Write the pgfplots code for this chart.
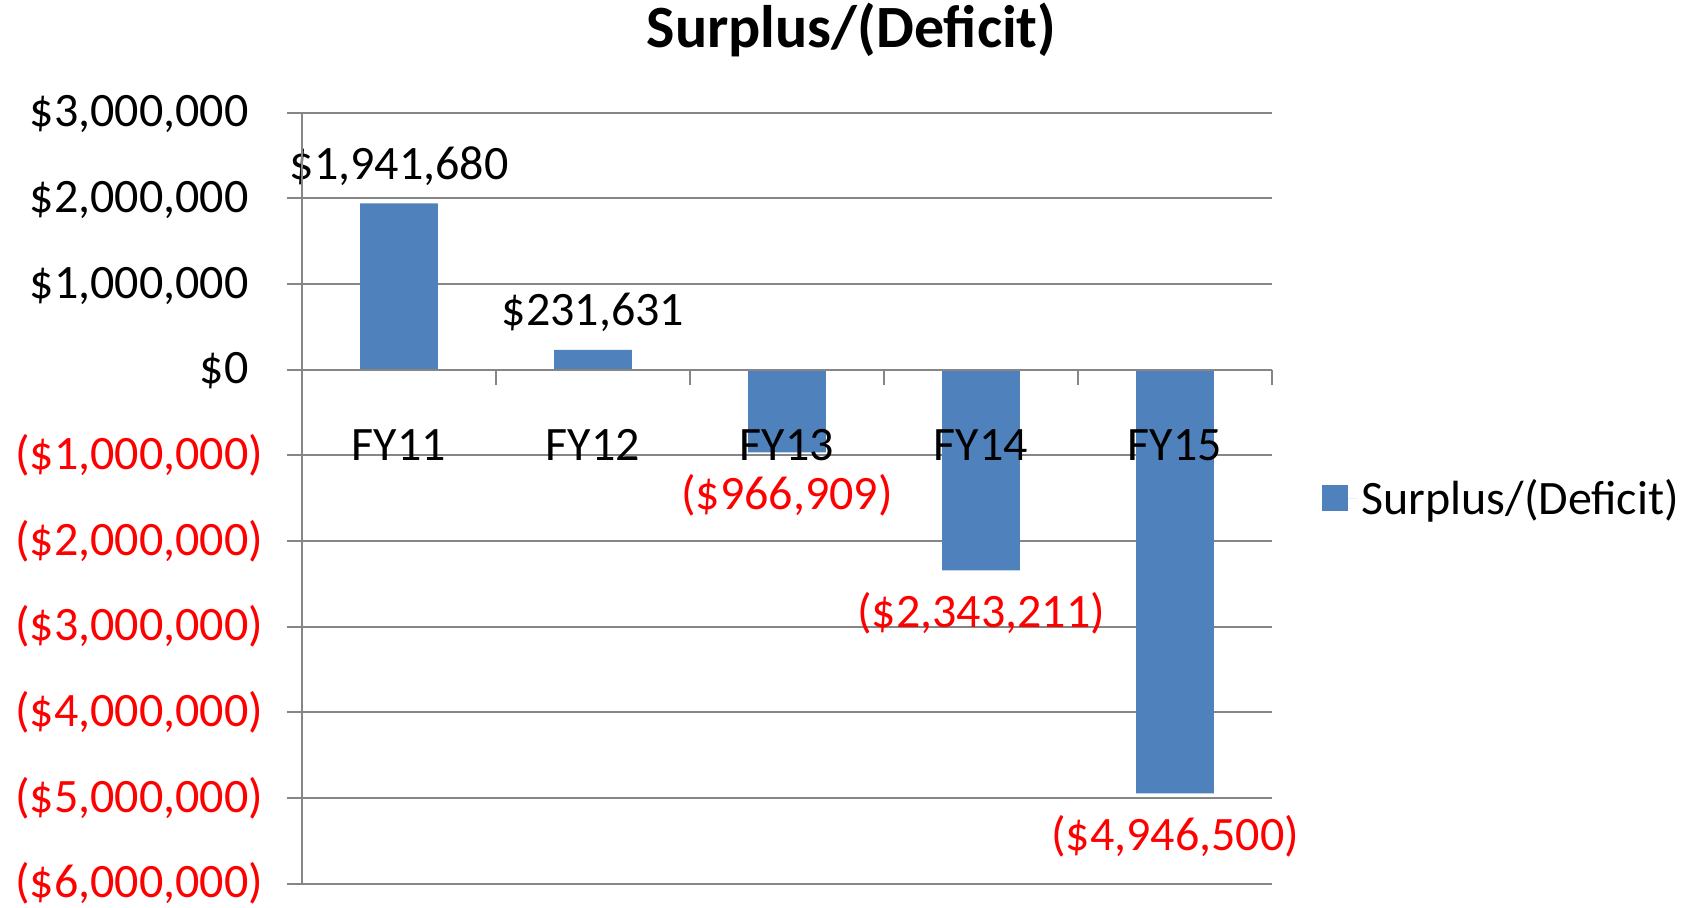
\documentclass[border=0pt]{standalone}
\usepackage{fontspec}
\setmainfont{Carlito}
\usepackage{pgfplots}
\pgfplotsset{compat=1.18}
\definecolor{barblue}{HTML}{4F81BD}
\definecolor{axgray}{HTML}{868686}
\definecolor{negred}{HTML}{FF0000}
\pgfplotsset{
  layers/mylayers/.define layer set={axis background,axis grid,pre main,main,axis ticks,axis lines,axis tick labels,axis descriptions,axis foreground}{/pgfplots/layers/standard},
}
\begin{document}
\begin{tikzpicture}[x=1pt,y=1pt]
\begin{axis}[
  set layers=mylayers,
  at={(151pt,11.75pt)}, anchor=south west, scale only axis,
  width=485pt, height=385.4pt,
  xmin=0.5, xmax=5.5, ymin=-6000000, ymax=3000000,
  axis x line=middle, axis y line=left,
  axis line style={-, draw=axgray, line width=1pt},
  hide obscured x ticks=false, hide obscured y ticks=false,
  xtick={0.5,1.5,2.5,3.5,4.5,5.5},
  x tick label as interval,
  xticklabels={FY11,FY12,FY13,FY14,FY15},
  xticklabel style={yshift=-19pt},
  ytick={-6000000,-5000000,-4000000,-3000000,-2000000,-1000000,0,1000000,2000000,3000000},
  yticklabels={
    {\color{negred}(\$6,000,000)},
    {\color{negred}(\$5,000,000)},
    {\color{negred}(\$4,000,000)},
    {\color{negred}(\$3,000,000)},
    {\color{negred}(\$2,000,000)},
    {\color{negred}(\$1,000,000)},
    {\$0\phantom{)}},
    {\$1,000,000\phantom{)}},
    {\$2,000,000\phantom{)}},
    {\$3,000,000\phantom{)}}},
  yticklabel style={xshift=-8.5pt},
  scaled y ticks=false,
  tick align=outside,
  major tick length=7.5pt,
  tick style={draw=axgray, line width=1pt},
  ymajorgrids, grid style={draw=axgray, line width=1pt},
  tick label style={font=\fontsize{24}{29}\selectfont},
  legend style={draw=none, fill=none, at={(1.0515,0.5)}, anchor=west,
    font=\fontsize{24}{29}\selectfont, inner sep=0pt},
  legend image code/.code={\fill[barblue] (0pt,-6.5pt) rectangle (13pt,6.5pt); \path (0pt,0pt) -- (17.5pt,0pt);},
]
\addplot[ybar, bar width=0.4, fill=barblue, draw=none,
  nodes near coords, point meta=explicit symbolic,
  nodes near coords style={anchor=base, yshift=12pt, black, font=\fontsize{24}{29}\selectfont}]
  coordinates {(1,1941680) [\$1,941,680] (2,231631) [\$231,631]};
\addlegendentry{Surplus/(Deficit)}
\addplot[ybar, bar width=0.4, fill=barblue, draw=none, forget plot,
  nodes near coords, point meta=explicit symbolic,
  nodes near coords style={anchor=base, yshift=-28.5pt, negred, font=\fontsize{24}{29}\selectfont}]
  coordinates {(3,-966909) [(\$966,909)] (4,-2343211) [(\$2,343,211)] (5,-4946500) [(\$4,946,500)]};
\end{axis}
\node[anchor=base, inner sep=0pt, font=\bfseries\fontsize{30}{36}\selectfont] at (425.75,429.5) {Surplus/(Deficit)};
\pgfresetboundingbox
\path[use as bounding box] (0,0) rectangle (847,453.5);
\end{tikzpicture}
\end{document}
